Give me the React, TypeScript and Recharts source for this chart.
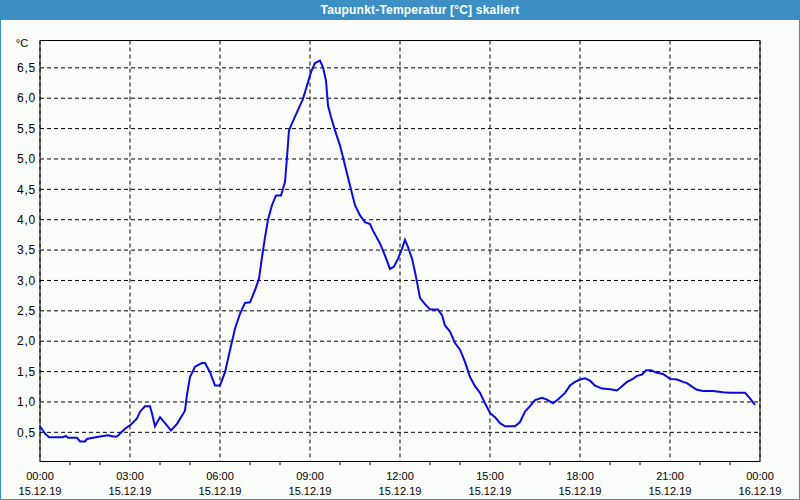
import { CartesianGrid, Line, LineChart, ReferenceArea, ReferenceLine, XAxis, YAxis } from 'recharts';

// minutes since 15.12.19 00:00
const minutes = [
  0, 10, 18, 46, 52, 56, 74, 80, 90, 94, 106, 120, 136, 146, 154, 160, 170, 182, 194, 200,
  210, 220, 224, 230, 240, 250, 262, 274, 286, 290, 294, 300, 310, 324, 330, 340, 350, 360, 370, 380,
  390, 400, 410, 420, 430, 438, 444, 450, 456, 464, 472, 482, 490, 494, 498, 502, 514, 526, 534, 542,
  550, 560, 566, 572, 576, 582, 590, 600, 606, 614, 624, 630, 640, 650, 660, 666, 680, 690, 700, 708,
  716, 724, 730, 736, 744, 750, 756, 760, 770, 780, 796, 804, 810, 820, 830, 840, 850, 860, 870, 880,
  890, 900, 910, 920, 930, 950, 960, 970, 980, 990, 1004, 1014, 1026, 1036, 1050, 1060, 1070, 1080, 1090, 1100,
  1110, 1124, 1140, 1154, 1164, 1174, 1184, 1194, 1204, 1212, 1222, 1234, 1246, 1260, 1274, 1286, 1294, 1306, 1314, 1326,
  1346, 1366, 1380, 1410, 1420, 1430,
];

const dewPoint = [
  0.6, 0.48, 0.42, 0.42, 0.44, 0.41, 0.41, 0.35, 0.35, 0.39, 0.41, 0.43, 0.45, 0.43, 0.43, 0.48, 0.56, 0.63, 0.73, 0.84,
  0.93, 0.93, 0.81, 0.6, 0.75, 0.65, 0.53, 0.64, 0.8, 0.86, 1.12, 1.41, 1.58, 1.64, 1.64, 1.49, 1.27, 1.27, 1.49, 1.85,
  2.21, 2.45, 2.63, 2.64, 2.84, 3.03, 3.38, 3.71, 4.0, 4.24, 4.4, 4.4, 4.62, 5.03, 5.47, 5.55, 5.77, 5.99, 6.21, 6.43,
  6.58, 6.62, 6.51, 6.29, 5.88, 5.69, 5.47, 5.22, 5.03, 4.76, 4.43, 4.24, 4.07, 3.96, 3.93, 3.82, 3.61, 3.41, 3.19, 3.23,
  3.36, 3.52, 3.67, 3.55, 3.36, 3.14, 2.89, 2.71, 2.61, 2.52, 2.52, 2.43, 2.26, 2.16, 1.97, 1.86, 1.66, 1.41, 1.26, 1.15,
  0.98, 0.82, 0.75, 0.65, 0.6, 0.6, 0.67, 0.84, 0.93, 1.03, 1.07, 1.04, 0.98, 1.04, 1.15, 1.27, 1.33, 1.37, 1.39, 1.35,
  1.27, 1.22, 1.21, 1.19, 1.26, 1.33, 1.37, 1.43, 1.45, 1.52, 1.52, 1.48, 1.46, 1.38, 1.37, 1.33, 1.31, 1.24, 1.2, 1.18,
  1.18, 1.16, 1.15, 1.15, 1.06, 0.95,
];

const tickMinutes = [0, 180, 360, 540, 720, 900, 1080, 1260, 1440];
const tickTimes = ['00:00', '03:00', '06:00', '09:00', '12:00', '15:00', '18:00', '21:00', '00:00'];
const tickDates = ['15.12.19', '15.12.19', '15.12.19', '15.12.19', '15.12.19', '15.12.19', '15.12.19', '15.12.19', '16.12.19'];
const minorTickMinutes = [60, 120, 240, 300, 420, 480, 600, 660, 780, 840, 960, 1020, 1140, 1200, 1320, 1380];
const yTicks = [0.5, 1, 1.5, 2, 2.5, 3, 3.5, 4, 4.5, 5, 5.5, 6, 6.5];
const yMin = 0.02;
const yMax = 6.95;

const data = minutes.map((m, i) => ({ m, v: dewPoint[i] }));

const BLUE = '#3c8fc4';

function TimeTick({ x, y, payload }: any) {
  const i = tickMinutes.indexOf(payload.value);
  return (
    <g>
      <text x={x} y={y + 18} textAnchor="middle" fontSize={11} fill="#000">
        {tickTimes[i]}
      </text>
      <text x={x} y={y + 33} textAnchor="middle" fontSize={11} fill="#000">
        {tickDates[i]}
      </text>
    </g>
  );
}

export default function App() {
  return (
    <div
      style={{
        position: 'fixed',
        left: 0,
        top: 0,
        width: 800,
        height: 500,
        background: '#fafcfa',
        fontFamily: '"Liberation Sans", Arial, sans-serif',
      }}
    >
      <div
        style={{
          position: 'absolute',
          left: 0,
          top: 0,
          width: 800,
          height: 20,
          background: BLUE,
          color: '#fff',
          fontWeight: 'bold',
          fontSize: 12,
          letterSpacing: 0.2,
          lineHeight: '20px',
          textAlign: 'center',
          paddingLeft: 40,
          boxSizing: 'border-box',
        }}
      >
        Taupunkt-Temperatur [°C] skaliert
      </div>
      <div style={{ position: 'absolute', left: 0, top: 0 }}>
        <LineChart width={800} height={500} data={data} margin={{ top: 40.5, right: 40, bottom: 0, left: 0 }}>
          <CartesianGrid stroke="#000" strokeDasharray="4 3" />
          <XAxis
            dataKey="m"
            type="number"
            domain={[0, 1440]}
            ticks={tickMinutes}
            interval={0}
            tick={<TimeTick />}
            tickLine={false}
            tickSize={0}
            tickMargin={0}
            axisLine={false}
            height={38.5}
          />
          <YAxis
            type="number"
            domain={[yMin, yMax]}
            ticks={yTicks}
            interval={0}
            allowDataOverflow
            tickFormatter={(v: number) => v.toFixed(1).replace('.', ',')}
            tick={{ fill: '#000', fontSize: 12, letterSpacing: 0.8 }}
            tickLine={false}
            tickSize={0}
            tickMargin={4}
            axisLine={false}
            width={40}
            label={{ value: '°C', position: 'insideTop', offset: -1, dx: 2, fill: '#000', fontSize: 11 }}
          />
          <ReferenceArea x1={0} x2={1440} y1={yMin} y2={yMax} fill="none" stroke="#000" strokeWidth={1} />
          {minorTickMinutes.map((m) => (
            <ReferenceLine
              key={m}
              ifOverflow="visible"
              segment={[
                { x: m, y: yMin },
                { x: m, y: yMin - 0.06 },
              ]}
              stroke="#000"
            />
          ))}
          <Line
            type="linear"
            dataKey="v"
            stroke="#0a0ae0"
            strokeWidth={2}
            dot={false}
            isAnimationActive={false}
          />
        </LineChart>
      </div>
      <div
        style={{
          position: 'absolute',
          left: 0,
          top: 0,
          width: 800,
          height: 500,
          border: `1px solid ${BLUE}`,
          boxSizing: 'border-box',
          pointerEvents: 'none',
        }}
      />
    </div>
  );
}
